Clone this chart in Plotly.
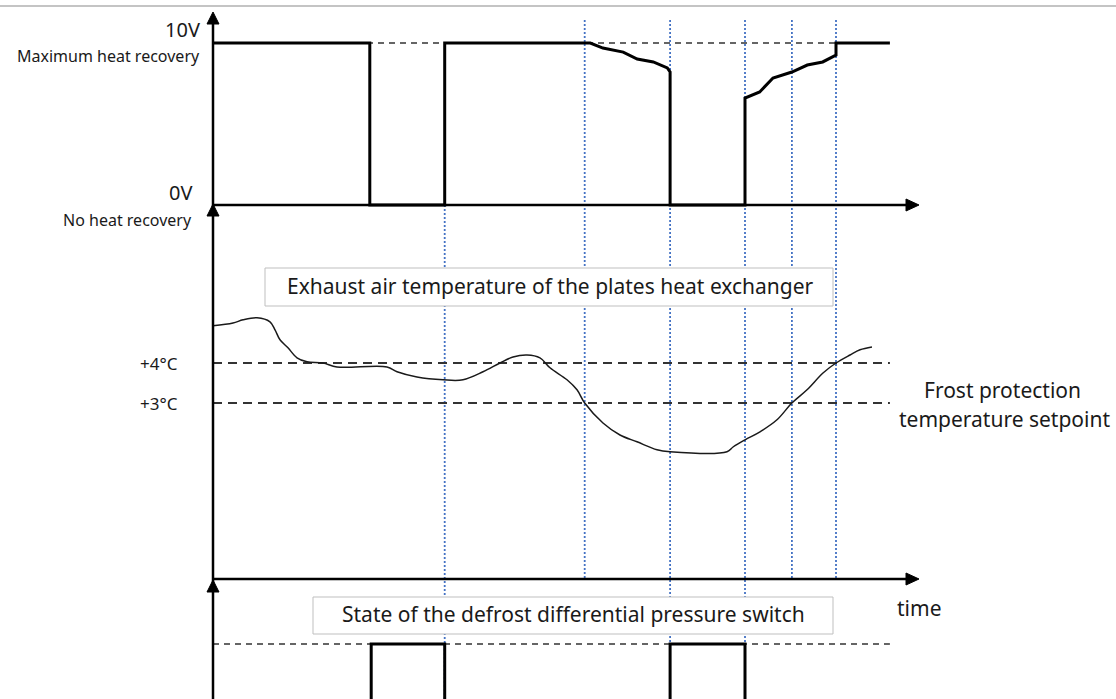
import plotly.graph_objects as go

# ---------------------------------------------------------------------------
# Data (time in minutes)
# ---------------------------------------------------------------------------
# Heat-recovery control signal (0-10 V)
signal_t = [0, 22.4, 22.4, 33.1, 33.1, 53.9, 55.7, 58.6, 60.6, 62.9, 64.9, 65.3, 65.3,
            76.0, 76.0, 78.1, 80.0, 82.7, 84.9, 87.1, 89.0, 89.0, 96.7]
signal_v = [10, 10, 0, 0, 10, 10, 9.69, 9.44, 9.01, 8.83, 8.46, 8.21, 0,
            0, 6.6, 6.98, 7.84, 8.21, 8.64, 8.83, 9.26, 10, 10]

# Exhaust air temperature after the plate heat exchanger (°C)
temp_t = [0, 2.86, 4.29, 6.29, 8.14, 8.86, 9.57, 10.71, 12.0, 13.43, 15.71, 17.71,
          24.86, 26.29, 29.14, 32.86, 35.71, 38.57, 41.0, 42.86, 44.86, 46.71, 48.14,
          50.57, 52.0, 53.1, 55.71, 58.14, 60.57, 63.43, 65.3, 73.43, 74.29, 76.0,
          78.14, 80.57, 82.7, 84.86, 87.14, 89.0, 91.0, 92.43, 94.14]
temp_c = [4.93, 5.0, 5.08, 5.13, 5.03, 4.83, 4.58, 4.38, 4.13, 4.03, 4.0, 3.9,
          3.9, 3.78, 3.65, 3.58, 3.58, 3.78, 4.0, 4.15, 4.2, 4.13, 3.88,
          3.58, 3.33, 3.0, 2.5, 2.2, 2.03, 1.83, 1.78, 1.78, 1.9, 2.08,
          2.28, 2.58, 3.0, 3.33, 3.75, 4.0, 4.2, 4.33, 4.4]

# Defrost differential pressure switch (0 = open, 1 = closed)
switch_t = [0, 22.6, 22.6, 33.1, 33.1, 65.3, 65.3, 76.0, 76.0, 96.7]
switch_s = [0, 0, 1, 1, 0, 0, 1, 1, 0, 0]

# Frost protection setpoints (°C) and their labels
setpoints = [4, 3]
setpoint_labels = ["+4°C", "+3°C"]

# Signal levels and their labels
levels = [10, 0]
level_labels = ["10V", "0V"]
level_notes = ["Maximum heat recovery", "No heat recovery"]

# Event times marked with vertical guides, with the panels they span
event_t = [33.1, 53.1, 65.3, 76.0, 82.7, 89.0]
event_span = ["mid+bot", "top+mid", "all", "all", "top+mid", "top+mid"]

T_END = 96.7      # end of the drawn traces

# ---------------------------------------------------------------------------
# Layout geometry
# ---------------------------------------------------------------------------
W, H = 1116, 699
X0 = 213          # vertical axis position (px)
PX_PER_MIN = 7.0


def px(x):
    return x / W


def py(y):
    return 1 - y / H


# time axis range mapped across the full figure width
x_range = [-X0 / PX_PER_MIN, (W - X0) / PX_PER_MIN]

# top panel: 0 V at y=205 px, 10 V at y=43 px
TOP_0, TOP_10 = 205, 43
v_per_px = 10 / (TOP_0 - TOP_10)
top_dom_px = (8, 215)
top_range = [(TOP_0 - top_dom_px[1]) * v_per_px, (TOP_0 - top_dom_px[0]) * v_per_px]

# middle panel: +3 °C at y=403 px, 40 px per °C
MID_3, MID_PPC = 403, 40.0
mid_dom_px = (200, 590)
mid_range = [3 - (mid_dom_px[1] - MID_3) / MID_PPC, 3 - (mid_dom_px[0] - MID_3) / MID_PPC]

# bottom panel: state 1 at y=644 px, 80 px per unit
BOT_1, BOT_PPU = 644, 80.0
bot_dom_px = (575, 699)
bot_range = [1 - (bot_dom_px[1] - BOT_1) / BOT_PPU, 1 - (bot_dom_px[0] - BOT_1) / BOT_PPU]

FONT = "Noto Sans"
BLACK = "#000000"
DASH_COL = "#333333"
BLUE = "#4472c4"

fig = go.Figure()

# setpoint / level dashed references
fig.add_trace(go.Scatter(x=[0, 89.0], y=[levels[0]] * 2, mode="lines",
                         line=dict(color=DASH_COL, width=1.5, dash="6px,5px"),
                         xaxis="x", yaxis="y", hoverinfo="skip"))
for sp in setpoints:
    fig.add_trace(go.Scatter(x=[0, T_END], y=[sp, sp], mode="lines",
                             line=dict(color=DASH_COL, width=1.8, dash="9px,6px"),
                             xaxis="x", yaxis="y2", hoverinfo="skip"))
fig.add_trace(go.Scatter(x=[0, T_END], y=[1, 1], mode="lines",
                         line=dict(color=DASH_COL, width=1.5, dash="6px,5px"),
                         xaxis="x", yaxis="y3", hoverinfo="skip"))

# data traces
fig.add_trace(go.Scatter(x=signal_t, y=signal_v, mode="lines",
                         line=dict(color=BLACK, width=3), xaxis="x", yaxis="y"))
fig.add_trace(go.Scatter(x=temp_t, y=temp_c, mode="lines", line_shape="spline",
                         line=dict(color="#1a1a1a", width=1.5), xaxis="x", yaxis="y2"))
fig.add_trace(go.Scatter(x=switch_t, y=switch_s, mode="lines",
                         line=dict(color=BLACK, width=3), xaxis="x", yaxis="y3"))

shapes = []

# event guides
span_px = {"top+mid": (20, 579), "mid+bot": (205, 699), "all": (20, 699)}
for t, span in zip(event_t, event_span):
    y_a, y_b = span_px[span]
    shapes.append(dict(type="line", xref="x", yref="paper", x0=t, x1=t,
                       y0=py(y_a), y1=py(y_b),
                       line=dict(color=BLUE, width=1.8, dash="2px,2px"), layer="below"))

# axes drawn with arrows
AX = dict(color=BLACK, width=2.5)
shapes.append(dict(type="line", xref="paper", yref="paper", x0=px(X0), x1=px(X0),
                   y0=py(16), y1=py(H), line=AX))
for yy in (205, 579):
    shapes.append(dict(type="line", xref="paper", yref="paper", x0=px(X0), x1=px(910),
                       y0=py(yy), y1=py(yy), line=AX))
    # right-pointing arrowhead
    shapes.append(dict(type="path", xref="paper", yref="paper", fillcolor=BLACK,
                       line=dict(color=BLACK, width=1),
                       path=f"M {px(906)},{py(yy-6)} L {px(919)},{py(yy)} L {px(906)},{py(yy+6)} Z"))
for ytip in (12, 204, 580):
    shapes.append(dict(type="path", xref="paper", yref="paper", fillcolor=BLACK,
                       line=dict(color=BLACK, width=1),
                       path=f"M {px(X0-6)},{py(ytip+12)} L {px(X0)},{py(ytip)} L {px(X0+6)},{py(ytip+12)} Z"))

# thin grey rule along the top
shapes.append(dict(type="line", xref="paper", yref="paper", x0=0, x1=1,
                   y0=py(6), y1=py(6), line=dict(color="#c4c4c4", width=2)))

# caption boxes
for (bx0, by0, bx1, by1) in [(265, 268, 833, 306), (313, 597, 833, 634)]:
    shapes.append(dict(type="rect", xref="paper", yref="paper",
                       x0=px(bx0), x1=px(bx1), y0=py(by0), y1=py(by1),
                       fillcolor="white", line=dict(color="#bfbfbf", width=1)))

TXT = 21
annotations = [
    dict(text="Exhaust air temperature of the plates heat exchanger", x=px(550), y=py(286),
         font=dict(size=TXT)),
    dict(text="State of the defrost differential pressure switch", x=px(573), y=py(614),
         font=dict(size=TXT)),
    dict(text="Frost protection", x=px(1002), y=py(390), font=dict(size=TXT)),
    dict(text="temperature setpoint", x=px(1004), y=py(419), font=dict(size=TXT)),
    dict(text="time", x=px(919), y=py(608), font=dict(size=TXT)),
]
level_right = [202, 194]
level_shift = [(13, -13), (12, -15)]
for lv, lab, note, xr, (s_lab, s_note) in zip(levels, level_labels, level_notes,
                                               level_right, level_shift):
    annotations.append(dict(text=lab, xref="paper", yref="y", x=px(xr), y=lv,
                            xanchor="right", yshift=s_lab, font=dict(size=20)))
    annotations.append(dict(text=note, xref="paper", yref="y", x=px(xr), y=lv,
                            xanchor="right", yshift=s_note, font=dict(size=16)))
for sp, lab in zip(setpoints, setpoint_labels):
    annotations.append(dict(text=lab, xref="paper", yref="y2", x=px(180), y=sp,
                            xanchor="right", font=dict(size=17)))
for a in annotations:
    a.setdefault("xref", "paper")
    a.setdefault("yref", "paper")
    a.setdefault("xanchor", "center")
    a.setdefault("yanchor", "middle")
    a["showarrow"] = False
    a["font"] = dict(family=FONT, color="#1a1a1a", **a["font"])

hidden = dict(visible=False, showgrid=False, zeroline=False, fixedrange=True)
fig.update_layout(
    width=W, height=H,
    margin=dict(l=0, r=0, t=0, b=0),
    paper_bgcolor="white", plot_bgcolor="rgba(0,0,0,0)",
    showlegend=False,
    font=dict(family=FONT),
    xaxis=dict(range=x_range, domain=[0, 1], anchor="y", **hidden),
    yaxis=dict(range=top_range, domain=[py(top_dom_px[1]), py(top_dom_px[0])], anchor="x", **hidden),
    yaxis2=dict(range=mid_range, domain=[py(mid_dom_px[1]), py(mid_dom_px[0])], anchor="x", **hidden),
    yaxis3=dict(range=bot_range, domain=[py(bot_dom_px[1]), py(bot_dom_px[0])], anchor="x", **hidden),
    shapes=shapes,
    annotations=annotations,
)

fig.write_html("out.html", post_script="document.body.style.margin='0';")
